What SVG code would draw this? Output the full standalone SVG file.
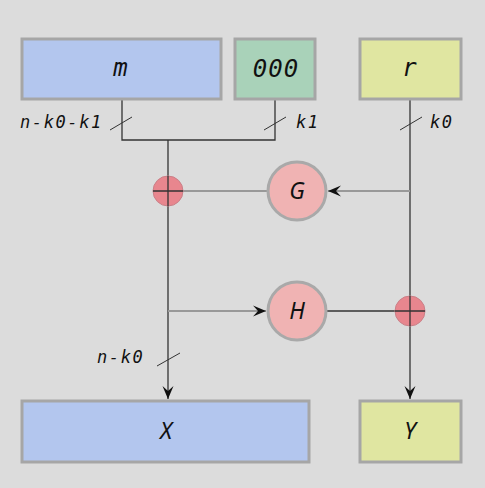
<svg xmlns="http://www.w3.org/2000/svg" width="485" height="488" viewBox="0 0 485 488">
<style>
.box{stroke:#a6a6a6;stroke-width:3}
.blue{fill:#b3c6ee}.green{fill:#a9d2b9}.yellow{fill:#e0e6a1}
.fn{fill:#f0b3b3;stroke:#a9a9a9;stroke-width:3}
.xor{fill:#e8868e;stroke:#c98088;stroke-width:1}
.mono{font-family:"DejaVu Sans Mono",monospace;font-style:italic;fill:#111}
.big{font-size:24px;text-anchor:middle;letter-spacing:1px}
.lbl{font-size:17px;letter-spacing:1.6px}
.sans{font-family:"Noto Sans","DejaVu Sans",sans-serif;font-style:italic;font-size:23px;text-anchor:middle;fill:#111}
.dk{stroke:#333;stroke-width:1.3;fill:none}
.gr{stroke:#999;stroke-width:2;fill:none}
.sl{stroke:#333;stroke-width:1;fill:none}
</style>
<defs>
<marker id="ah" markerUnits="userSpaceOnUse" markerWidth="14" markerHeight="12" viewBox="-13 -6 14 12" refX="0" refY="0" orient="auto">
<path d="M0,0 L-13,-5.5 L-8,0 L-13,5.5 Z" fill="#111"/>
</marker>
</defs>
<rect width="485" height="488" fill="#dcdcdc"/>
<g id="connectors">
<path class="dk" d="M122,99 V140 H275 V99"/>
<path class="dk" d="M168,140 V399" marker-end="url(#ah)"/>
<path class="dk" d="M410,99 V399" marker-end="url(#ah)"/>
<path class="gr" d="M410,191 H328" marker-end="url(#ah)"/>
<path class="gr" d="M268,191 H168"/>
<path class="gr" d="M168,311 H266" marker-end="url(#ah)"/>
<path class="dk" d="M326,311 H410"/>
<path class="sl" d="M110,130 L132,117 M264,130 L286,117 M400,130 L422,117 M157,366 L180,353"/>
</g>
<g id="m"><rect class="box blue" x="22" y="39" width="199" height="60"/><text class="mono big" x="121" y="76">m</text></g>
<g id="zeros"><rect class="box green" x="235" y="39" width="80" height="60"/><text class="mono big" x="276" y="77">000</text></g>
<g id="r"><rect class="box yellow" x="360" y="39" width="101" height="60"/><text class="mono big" x="410" y="76">r</text></g>
<g id="labels">
<text class="mono lbl" x="20" y="128">n-k0-k1</text>
<text class="mono lbl" x="296" y="128">k1</text>
<text class="mono lbl" x="430" y="128">k0</text>
<text class="mono lbl" x="97" y="363">n-k0</text>
</g>
<g id="xor1"><circle class="xor" cx="168" cy="191" r="15"/><path class="dk" d="M168,176 V206 M153,191 H183"/></g>
<g id="G"><circle class="fn" cx="297" cy="191" r="29"/><text class="sans" x="297" y="199">G</text></g>
<g id="H"><circle class="fn" cx="297" cy="311" r="29"/><text class="sans" x="297" y="319">H</text></g>
<g id="xor2"><circle class="xor" cx="410" cy="311" r="15"/><path class="dk" d="M410,296 V326 M395,311 H425"/></g>
<g id="X"><rect class="box blue" x="22" y="401" width="287" height="61"/><text class="sans" x="166" y="439">X</text></g>
<g id="Y"><rect class="box yellow" x="360" y="401" width="101" height="61"/><text class="sans" x="410" y="439">Y</text></g>
</svg>
